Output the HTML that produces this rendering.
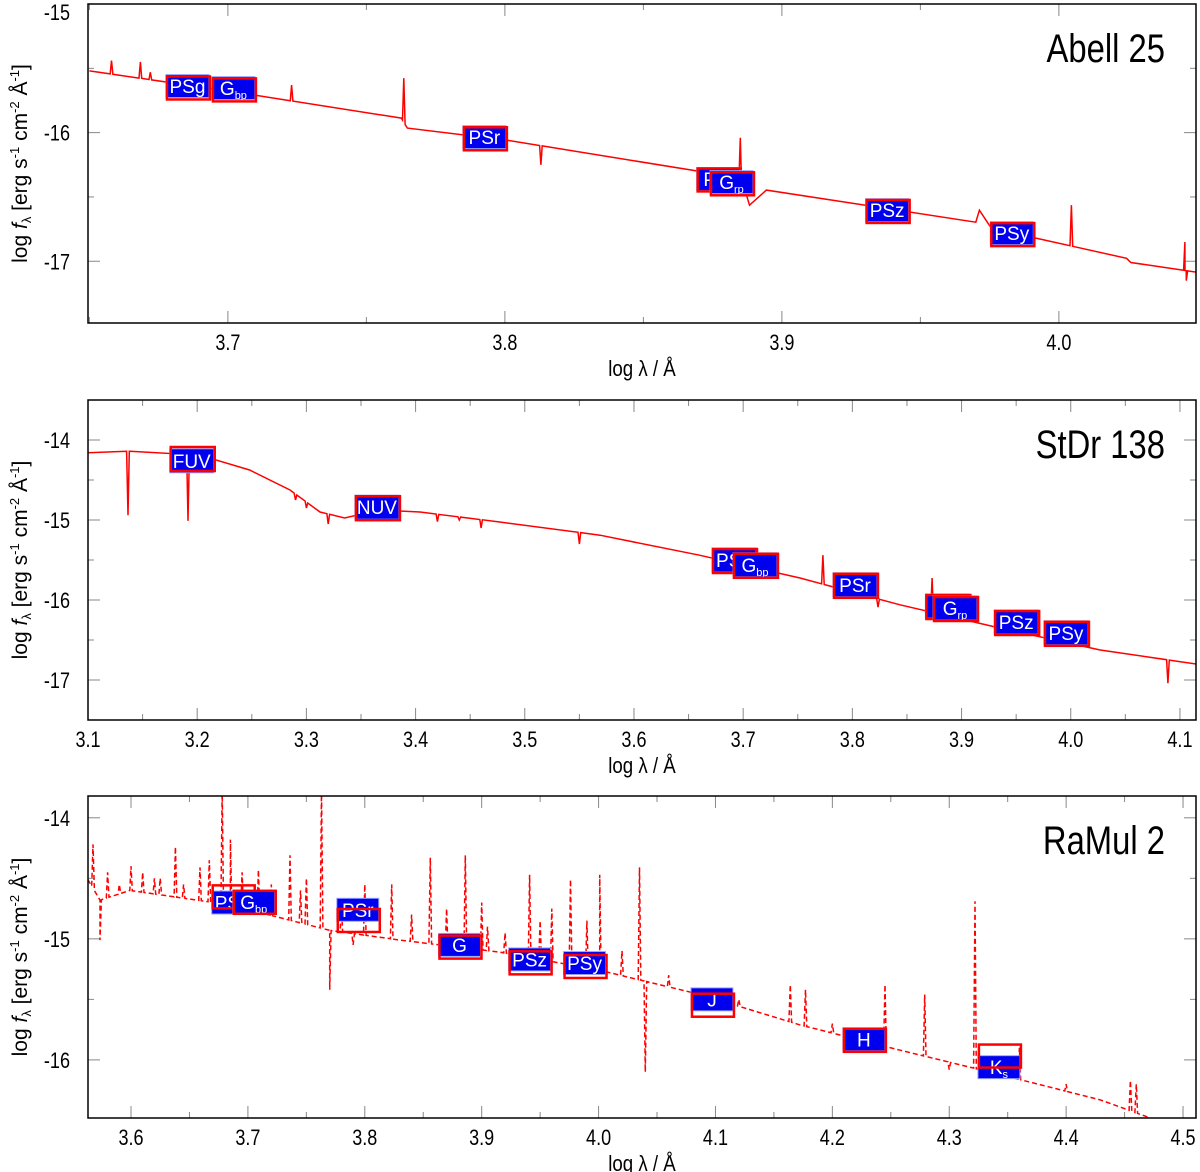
<!DOCTYPE html>
<html><head><meta charset="utf-8"><style>
body{margin:0;background:#fff;}
svg{display:block;font-family:"Liberation Sans",sans-serif;}
</style></head><body>
<svg id="chart" width="1200" height="1172" viewBox="0 0 1200 1172" xmlns="http://www.w3.org/2000/svg"></svg>
<script>
// ---------- Panel 1: Abell 25 ----------
const p1SpecLam = [3.65,3.7005,3.7626,3.7648,3.8005,3.8854,3.8883,3.8944,3.970,3.9713,3.9756,4.0244,4.026,4.05];
const p1SpecFlux = [-15.52,-15.677,-15.887,-15.965,-16.058,-16.354,-16.564,-16.447,-16.696,-16.603,-16.743,-16.977,-17.01,-17.086];
const p1SpikeLam = [3.658,3.6684,3.672,3.723,3.7635,3.813,3.885,4.0045,4.0455,4.046];
const p1SpikeFlux = [-15.44,-15.45,-15.53,-15.63,-15.576,-16.25,-16.04,-16.564,-16.85,-17.15];
const p1BandLam = [3.6854,3.702,3.7926,3.877,3.8818,3.938,3.983];
const p1BandObs = [-15.638,-15.654,-16.035,-16.362,-16.385,-16.603,-16.782];
const p1BandModel = [-15.645,-15.66,-16.04,-16.36,-16.39,-16.605,-16.785];
const p1BandLabel = ["PSg","G","PSr","PSi","G","PSz","PSy"];
const p1BandSub = ["","bp","","","rp","",""];
// ---------- Panel 2: StDr 138 ----------
const p2SpecLam = [3.1,3.1385,3.2026,3.248,3.285,3.3125,3.335,3.367,3.404,3.477,3.569,3.66,3.752,3.8436,3.935,4.027,4.115];
const p2SpecFlux = [-14.16,-14.14,-14.19,-14.375,-14.625,-14.9,-14.975,-14.875,-14.9,-15.025,-15.19,-15.44,-15.725,-16.06,-16.35,-16.625,-16.8];
const p2SpikeLam = [3.1366,3.1916,3.773,3.8235,3.873,4.089,3.42,3.46,3.55,3.29,3.30,3.32,3.44];
const p2SpikeFlux = [-14.94,-15.01,-15.44,-16.09,-15.725,-17.04,-15.02,-15.1,-15.3,-14.75,-14.85,-15.05,-15.0];
const p2BandLam = [3.195,3.3646,3.6916,3.7108,3.8024,3.887,3.894,3.95,3.9956];
const p2BandObs = [-14.26,-14.84,-15.5,-15.56,-15.81,-16.075,-16.1,-16.275,-16.41];
const p2BandModel = [-14.225,-14.84,-15.5,-15.56,-15.81,-16.075,-16.1,-16.275,-16.41];
const p2BandLabel = ["FUV","NUV","PSg","G","PSr","PSi","G","PSz","PSy"];
const p2BandSub = ["","","","bp","","","rp","",""];
// ---------- Panel 3: RaMul 2 ----------
const p3SpecLam = [3.563,3.5735,3.599,3.685,3.770,3.830,3.916,4.001,4.087,4.172,4.258,4.343,4.429,4.472];
const p3SpecFlux = [-14.51,-14.68,-14.6,-14.72,-14.93,-15.01,-15.11,-15.26,-15.46,-15.71,-15.92,-16.12,-16.33,-16.48];
const p3SpikeLam = [3.5675,3.5735,3.638,3.659,3.678,3.685,3.709,3.736,3.763,3.770,3.823,3.856,3.886,3.941,3.976,4.001,4.035,4.04,4.095,4.164,4.177,4.245,4.279,4.322,4.455,3.61,3.62,3.75,3.80,3.90,3.96,4.3,
  3.58,3.59,3.60,3.625,3.645,3.667,3.695,3.72,3.745,3.78,3.79,3.84,3.87,3.905,3.92,3.95,3.99,4.02,4.06,4.12,4.2,4.36,4.4,4.46];
const p3SpikeFlux = [-14.22,-15.01,-14.24,-14.41,-13.77,-14.18,-14.43,-14.31,-13.77,-15.42,-14.55,-14.33,-14.31,-14.47,-14.51,-14.47,-14.41,-16.10,-15.46,-15.38,-15.42,-15.38,-15.46,-14.69,-16.17,-14.45,-14.5,-14.5,-14.55,-14.7,-14.75,-16.08,
  -14.45,-14.55,-14.4,-14.5,-14.55,-14.35,-14.45,-14.55,-14.6,-14.75,-15.05,-14.8,-14.75,-14.9,-14.95,-14.85,-14.85,-15.1,-15.3,-15.5,-15.7,-15.9,-16.2,-16.2];
const p3BandLam = [3.687,3.705,3.794,3.881,3.941,3.988,4.097,4.227,4.3425];
const p3BandObs = [-14.70,-14.694,-14.76,-15.05,-15.17,-15.20,-15.50,-15.83,-16.06];
const p3BandModel = [-14.645,-14.69,-14.84,-15.06,-15.19,-15.22,-15.54,-15.83,-15.96];
const p3BandLabel = ["PSg","G","PSr","G","PSz","PSy","J","H","K"];
const p3BandSub = ["","bp","","","","","","","s"];

const NS="http://www.w3.org/2000/svg";
const svg=document.getElementById('chart');
function mk(tag,attrs,parent){const e=document.createElementNS(NS,tag);for(const k in attrs)e.setAttribute(k,attrs[k]);(parent||svg).appendChild(e);return e;}

function panel(cfg){
  const g=mk('g',{});
  
  
  const X=v=>cfg.x0+(v-cfg.xmin)/(cfg.xmax-cfg.xmin)*(cfg.x1-cfg.x0);
  const Y=v=>cfg.y0+(cfg.ymax-v)/(cfg.ymax-cfg.ymin)*(cfg.y1-cfg.y0);
  const cid='clip'+cfg.name;
  const cp=mk('clipPath',{id:cid},g);
  mk('rect',{x:cfg.x0,y:cfg.y0,width:cfg.x1-cfg.x0,height:cfg.y1-cfg.y0},cp);
  const tg=mk('g',{stroke:'#888','stroke-width':1},g);
  
  
  for(let t=Math.ceil(cfg.xmin/cfg.xstep*2-1e-6);t*cfg.xstep/2<=cfg.xmax+1e-9;t++){
    const v=t*cfg.xstep/2, px=X(v), major=(t%2===0), L=major?12:6;
    mk('line',{x1:px,x2:px,y1:cfg.y1,y2:cfg.y1-L},tg);
    mk('line',{x1:px,x2:px,y1:cfg.y0,y2:cfg.y0+L},tg);
    if(major){const tx=mk('text',{x:px,y:cfg.y1+27,'text-anchor':'middle','font-size':22,fill:'#000',stroke:'none',transform:`translate(${px},0) scale(0.82,1) translate(${-px},0)`},g);
      tx.textContent=v.toFixed(1);
      
      }
  }
  for(let t=Math.ceil(cfg.ymin*2-1e-6);t/2<=cfg.ymax+1e-9;t++){
    const v=t/2, py=Y(v), major=(t%2===0), L=major?12:6;
    mk('line',{x1:cfg.x0,x2:cfg.x0+L,y1:py,y2:py},tg);
    mk('line',{x1:cfg.x1,x2:cfg.x1-L,y1:py,y2:py},tg);
    if(major){const ty=Math.max(py+8,20);const tx=mk('text',{x:70,y:ty,'text-anchor':'end','font-size':22,fill:'#000',transform:`translate(70,0) scale(0.82,1) translate(-70,0)`},g);
      tx.textContent=String(v);
      
      }
  }
  const base=cfg.lam.map((l,i)=>[l,cfg.flux[i]]);
  const interp=l=>{for(let i=0;i<base.length-1;i++){if(l>=base[i][0]&&l<=base[i+1][0]){const f=(l-base[i][0])/(base[i+1][0]-base[i][0]||1);return base[i][1]+f*(base[i+1][1]-base[i][1]);}}return base[base.length-1][1];};
  let pts=base.map(p=>({l:p[0],f:p[1]}));
  const eps=(cfg.xmax-cfg.xmin)*0.0012;
  cfg.spL.forEach((l,i)=>{pts.push({l:l-eps,f:interp(l-eps)});pts.push({l:l,f:cfg.spF[i]});pts.push({l:l+eps,f:interp(l+eps)});});
  pts.sort((a,b)=>a.l-b.l);
  const d='M'+pts.map(p=>X(p.l).toFixed(1)+','+Y(p.f).toFixed(1)).join('L');
  const path=mk('path',{d:d,fill:'none',stroke:'#ff0000','stroke-width':1.5,'clip-path':`url(#${cid})`,'stroke-dasharray':cfg.dash||'none'},g);
  
  
  cfg.bL.forEach((l,i)=>{
    const w=cfg.bw,h=cfg.bh,cx=X(l);
    const bg=mk('g',{},g);
    
    
    const oy=Y(cfg.bO[i]);
    mk('rect',{x:cx-w/2,y:oy-h/2,width:w,height:h,fill:'#0000ee',stroke:'#9aa6ff','stroke-width':1},bg);
    const t=mk('text',{x:cx,y:oy+7,'text-anchor':'middle','font-size':19,fill:'#fff'},bg);
    t.textContent=cfg.bLab[i];
    if(cfg.bSub[i]){const s=mk('tspan',{'font-size':11,dy:4},t);s.textContent=cfg.bSub[i];}
    const my=Y(cfg.bM[i]);
    mk('rect',{x:cx-w/2+1,y:my-h/2+1,width:w,height:h,fill:'none',stroke:'#ff0000','stroke-width':2.5},bg);
  });
  const fr=mk('rect',{x:cfg.x0,y:cfg.y0,width:cfg.x1-cfg.x0,height:cfg.y1-cfg.y0,fill:'none',stroke:'#000','stroke-width':1.5},g);
  
  
  const tt=mk('text',{x:1165,y:cfg.y0+58,'text-anchor':'end','font-size':40,fill:'#000',transform:`translate(1165,0) scale(0.82,1) translate(-1165,0)`},g);
  tt.textContent=cfg.title;
  
  
  const xl=mk('text',{x:(cfg.x0+cfg.x1)/2,y:cfg.y1+53,'text-anchor':'middle','font-size':22,fill:'#000',transform:`translate(642,0) scale(0.85,1) translate(-642,0)`},g);
  xl.textContent='log λ / Å';
  
  
  const cy=(cfg.y0+cfg.y1)/2;
  const yl=mk('text',{x:0,y:0,'text-anchor':'middle','font-size':21,fill:'#000',transform:`translate(27,${cy}) rotate(-90)`},g);
  yl.innerHTML='log <tspan font-style="italic">f</tspan><tspan font-size="13" dy="4">λ</tspan><tspan dy="-4"> [erg s</tspan><tspan font-size="13" dy="-8">-1</tspan><tspan dy="8"> cm</tspan><tspan font-size="13" dy="-8">-2</tspan><tspan dy="8"> Å</tspan><tspan font-size="13" dy="-8">-1</tspan><tspan dy="8">]</tspan>';
  
  
}

panel({name:'panel-abell-25',title:'Abell 25',x0:88,x1:1196,y0:4,y1:323,xmin:3.6495,xmax:4.0495,ymin:-17.48,ymax:-15,xstep:0.1,
  lam:p1SpecLam,flux:p1SpecFlux,spL:p1SpikeLam,spF:p1SpikeFlux,bL:p1BandLam,bO:p1BandObs,bM:p1BandModel,bLab:p1BandLabel,bSub:p1BandSub,bw:43,bh:23});
panel({name:'panel-stdr-138',title:'StDr 138',x0:88,x1:1196,y0:400,y1:720,xmin:3.1,xmax:4.1147,ymin:-17.5,ymax:-13.5,xstep:0.1,
  lam:p2SpecLam,flux:p2SpecFlux,spL:p2SpikeLam,spF:p2SpikeFlux,bL:p2BandLam,bO:p2BandObs,bM:p2BandModel,bLab:p2BandLabel,bSub:p2BandSub,bw:44,bh:24});
panel({name:'panel-ramul-2',title:'RaMul 2',x0:88,x1:1196,y0:796,y1:1118,xmin:3.5632,xmax:4.5111,ymin:-16.48,ymax:-13.82,xstep:0.1,dash:'5,3',
  lam:p3SpecLam,flux:p3SpecFlux,spL:p3SpikeLam,spF:p3SpikeFlux,bL:p3BandLam,bO:p3BandObs,bM:p3BandModel,bLab:p3BandLabel,bSub:p3BandSub,bw:42,bh:23});
</script>
</body></html>
